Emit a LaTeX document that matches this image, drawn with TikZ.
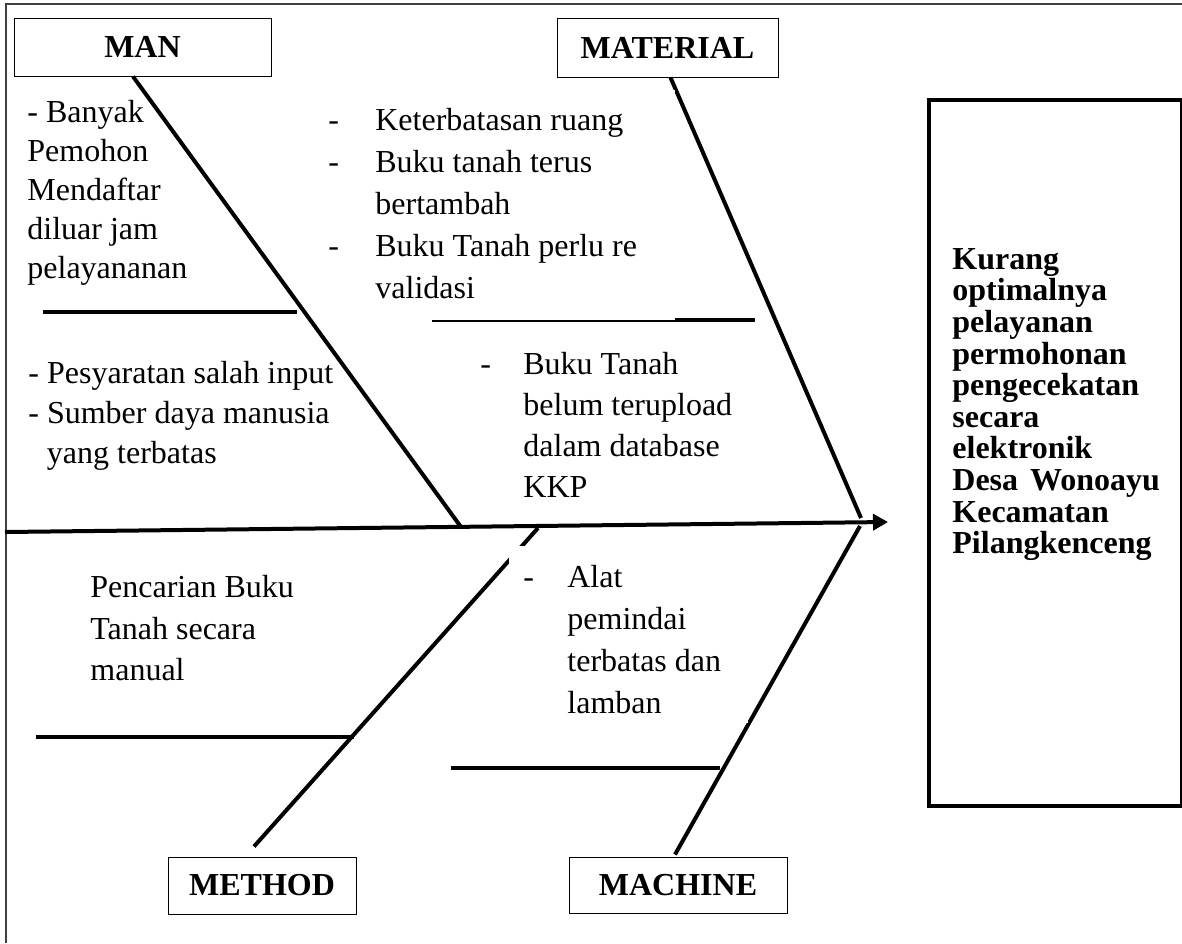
\documentclass[tikz,border=0pt]{standalone}
\usepackage{fontspec}
\setmainfont{Liberation Serif}
\usetikzlibrary{arrows.meta,calc,positioning}
\newcommand{\fb}[1][22pt]{\makebox[#1][l]{-}}
\newcommand{\fbind}[1][22pt]{\hspace*{#1}}
\newcommand{\fbsize}[1]{\fontsize{16}{#1}\selectfont}

\begin{document}
\begin{tikzpicture}[x=0.5pt,y=-0.5pt,
    cat/.style={draw,line width=.5pt,inner sep=0pt,font=\bfseries\fbsize{19}},
    bone/.style={line width=2pt},
    cause/.style={anchor=north west,inner sep=0pt,align=left}]
  \useasboundingbox (0,0) rectangle (1182,943);
  \draw[black!75,line width=.75pt] (1182,4) -- (6,4) -- (6,943);

  % category boxes
  \node[cat,minimum width=128.5pt,minimum height=29pt] (man) at (142.5,47) {MAN};
  \node[cat,minimum width=110.5pt,minimum height=29.5pt] (material) at (667.5,47.5) {MATERIAL};
  \node[cat,minimum width=94pt,minimum height=28.5pt] (method) at (262,885.5) {METHOD};
  \node[cat,minimum width=109pt,minimum height=28pt] (machine) at (678,885) {MACHINE};

  % effect
  \draw[line width=2pt] (929,100) rectangle (1181.5,806);
  \node[cause,font=\bfseries\fbsize{15.8}] (effect) at (952,248)
    {Kurang\\optimalnya\\pelayanan\\permohonan\\pengecekatan\\secara\\elektronik\\Desa\hspace{6pt}Wonoayu\\Kecamatan\\Pilangkenceng};

  % spine and bones
  \coordinate (tail) at (5,532);
  \coordinate (head) at (888,522);
  \coordinate (manjoint) at (461,527);
  \coordinate (matjoint) at (861,518);
  \coordinate (methjoint) at (538,528);
  \coordinate (machjoint) at (860,526);
  \draw[bone,-{Triangle[length=7.5pt,width=8pt]}] (tail) -- (head);
  \draw[bone] ([xshift=-4.75pt]man.south) -- (manjoint);
  \draw[bone] ([xshift=1.5pt]material.south) -- (matjoint);
  \draw[bone] (methjoint) -- ([xshift=-4pt,yshift=5pt]method.north);
  \draw[bone] (machjoint) -- ([xshift=-1.5pt,yshift=1pt]machine.north);

  % ribs
  \draw[bone] (43,312) -- (297,312);
  \draw[bone] (432,320) -- (755,320);
  \draw[bone] (36,737) -- (354,737);
  \draw[bone] (451,768) -- (720,768);

  % text boxes lying over the lines
  \fill[white] (322,90) rectangle (675,320);
  \fill[white] (470,333) rectangle (779,505);
  \fill[white] (509,546) rectangle (748,723);

  % causes
  \node[cause,font=\fbsize{19.5}] (man1) at (27,100)
    {- Banyak\\Pemohon\\Mendaftar\\diluar jam\\pelayananan};
  \node[cause,font=\fbsize{20}] (man2) at (28,361)
    {- Pesyaratan salah input\\- Sumber daya manusia\\\hspace*{9.3pt}yang terbatas};
  \node[cause,font=\fbsize{21}] (mat1) at (328,108)
    {\fb[23.5pt]Keterbatasan ruang\\\fb[23.5pt]Buku tanah terus\\\fbind[23.5pt]bertambah\\\fb[23.5pt]Buku Tanah perlu re\\\fbind[23.5pt]validasi};
  \node[cause,font=\fbsize{20.5}] (mat2) at (480,352)
    {\fb[21.5pt]Buku Tanah\\\fbind[21.5pt]belum terupload\\\fbind[21.5pt]dalam database\\\fbind[21.5pt]KKP};
  \node[cause,font=\fbsize{20.75}] (meth1) at (90,575)
    {Pencarian Buku\\Tanah secara\\manual};
  \node[cause,font=\fbsize{21}] (mach1) at (523,565)
    {\fb Alat\\\fbind pemindai\\\fbind terbatas dan\\\fbind lamban};
\end{tikzpicture}
\end{document}
